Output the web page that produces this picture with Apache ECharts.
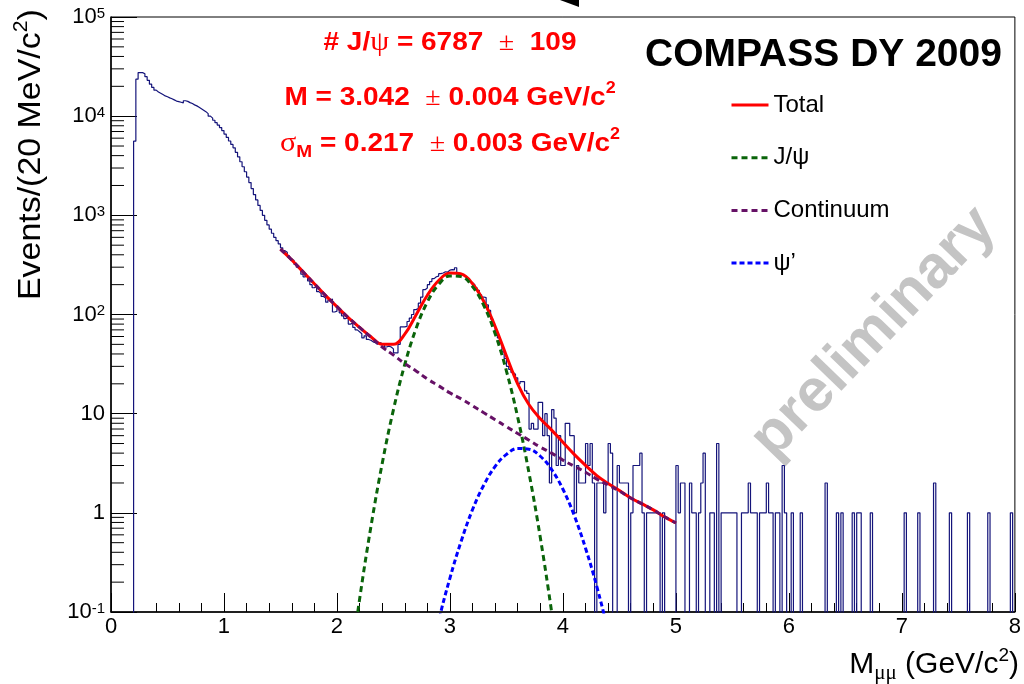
<!DOCTYPE html>
<html>
<head>
<meta charset="utf-8">
<script src="https://cdn.jsdelivr.net/npm/echarts@6/dist/echarts.min.js"></script>
<style>
  html, body { margin: 0; padding: 0; background: #fff; }
  #chart { width: 1024px; height: 684px; }
</style>
</head>
<body>
<div id="chart"></div>
<script>
// Dimuon invariant mass spectrum, 20 MeV/c^2 bins starting at 0 GeV/c^2
const binStart = 0;
const binWidth = 0.02;
const counts = [
  /* 0.00-0.38 */ 0,0,0,0,0,0,0,0,0,0, 5600,23600,27500,27500,26800,25000,23000,21000,19500,18300,
  /* 0.40-0.78 */ 17500,17000,16500,16000,15700,15300,15000,14600,14200,14000, 13800,13600,14300,14100,13700,13400,13000,12700,12300,11900,
  /* 0.80-1.18 */ 11500,11100,10600,10000,9550,9100,8600,8130,7670,7160, 6600,6100,5620,5190,4790,4320,3890,3470,3090,2750,
  /* 1.20-1.58 */ 2430,2140,1860,1620,1430,1260,1120,1000,890,800, 725,660,600,555,515,470,440,425,390,365,
  /* 1.60-1.98 */ 350,320,300,292,255,240,248,218,200,186, 192,170,163,152,147,133,140,143,106,108,
  /* 2.00-2.38 */ 115,104,97,91,93,80,82,74,70,67, 64,58,61,56,55,53,52,50,52,51,
  /* 2.40-2.78 */ 50,47,48,47,45,41,41,50,75,75, 76,85,92,100,112,115,130,150,178,185,
  /* 2.80-3.18 */ 200,215,230,240,244,258,262,270,268,280, 284,282,296,262,258,250,240,234,220,209,
  /* 3.20-3.58 */ 200,186,175,158,150,148,125,110,90,78, 65,58,51,42,36,30,28,26,25,23,
  /* 3.60-3.98 */ 20,21,21,17,16,7,8,7,7,13, 13,6,10,6,2,11,9,3,6,3,
  /* 4.00-4.38 */ 3,8,8,6,6,1,3,2,2,2, 5,3,5,2,0,2,2,2,1,2,
  /* 4.40-4.78 */ 5,4,0,0,3,2,2,2,2,0, 1,3,3,3,4,1,0,1,1,1,
  /* 4.80-5.18 */ 1,1,1,0,1,0,0,0,0,0, 3,1,2,2,0,0,2,1,1,0,
  /* 5.20-5.58 */ 1,2,4,0,0,1,1,0,5,0, 1,1,1,1,1,1,1,0,0,1,
  /* 5.60-5.98 */ 1,1,2,1,1,1,0,1,1,1, 2,1,1,0,1,1,0,3,1,0,
  /* 6.00-6.38 */ 0,1,0,0,0,1,0,0,0,0, 0,0,0,0,0,0,2,0,0,0,
  /* 6.40-6.78 */ 0,1,0,1,0,0,0,0,1,0, 1,1,0,0,0,0,1,0,0,0,
  /* 6.80-7.18 */ 0,0,0,0,0,0,0,0,0,0, 0,1,0,0,0,0,0,1,0,0,
  /* 7.20-7.58 */ 0,0,0,0,2,0,0,0,0,0, 0,1,0,0,0,0,0,0,0,1,
  /* 7.60-7.98 */ 0,0,0,0,0,0,0,0,1,0, 0,0,0,0,0,0,0,0,1,0
];
// empty bins are drawn just below the frame, like the histogram floor
const emptyBinLevel = 0.09;

// Fit components sampled along the mass axis (GeV/c^2)
const fitX = [1.5,1.6,1.7,1.8,1.9,2.0,2.1,2.2,2.3,2.4,2.5,2.6,2.7,2.8,2.9,3.0,3.1,3.2,3.3,3.4,
              3.5,3.6,3.7,3.8,3.9,4.0,4.1,4.2,4.3,4.4,4.5,4.6,4.7,4.8,4.9,5.0];
const continuum = [457,355,269,204,155,120,93,74,59,47, 39,32,27,22.4,19.1,16.2,14.1,12.0,10.2,8.7,
                   7.4,6.3,5.4,4.6,4.0,3.4,2.95,2.57,2.19,1.91, 1.66,1.41,1.23,1.07,0.91,0.79];
const jpsi = [null,null,null,null,null,null,0.02,0.134,0.72,3.13, 11.0,31.3,72.1,134,201,245,241,191,123,64,
              26.9,9.15,2.51,0.56,0.10,0.015,null,null,null,null, null,null,null,null,null,null];
const psiPrime = [null,null,null,null,null,null,null,null,null,null, null,null,null,0.02,0.08,0.22,0.52,1.08,1.91,2.94,
                  3.89,4.45,4.38,3.72,2.73,1.73,0.94,0.44,0.18,0.063, 0.018,null,null,null,null,null];

const yTickLabels = [[0.1,'10{sup|-1}'],[1,'1'],[10,'10'],[100,'10{sup|2}'],[1000,'10{sup|3}'],[10000,'10{sup|4}'],[100000,'10{sup|5}']];
const xTitle = 'M{sub|μμ} (GeV/c{sup|2})';
const yTitle = 'Events/(20 MeV/c{sup|2})';
const fitResults = [
  '# J/{g|ψ} = 6787  {pm|±}  109',
  'M = 3.042  {pm|±} 0.004 GeV/c{sup|2}',
  '{g|σ}{sub|M} = 0.217  {pm|±} 0.003 GeV/c{sup|2}'
];
const legendNames = ['Total', 'J/ψ', 'Continuum', 'ψ’'];

const FONT = '"Liberation Sans", Arial, Helvetica, sans-serif';
const SERIF = '"Liberation Serif", "DejaVu Serif", serif';

const histPoints = counts.map((c, i) => [+(binStart + i * binWidth).toFixed(2), Math.max(c, emptyBinLevel)]);
histPoints.push([+(binStart + counts.length * binWidth).toFixed(2), Math.max(counts[counts.length - 1], emptyBinLevel)]);

const pair = (arr) => fitX.map((x, i) => [x, arr[i] == null ? null : arr[i]]);
const total = fitX.map((x, i) => [x, continuum[i] + (jpsi[i] || 0) + (psiPrime[i] || 0)]);

// minor tick positions 2..9 x 10^k on the log axis
const yMinor = [];
for (let e = -1; e < 5; e++) for (let m = 2; m <= 9; m++) yMinor.push([0, m * Math.pow(10, e)]);

const chart = echarts.init(document.getElementById('chart'), null, { renderer: 'canvas' });

const redRich = {
  g:   { fontFamily: SERIF, fontWeight: 'normal', fontSize: 27, fill: '#ff0000', color: '#ff0000' },
  pm:  { fontFamily: SERIF, fontWeight: 'normal', fontSize: 25, fill: '#ff0000', color: '#ff0000' },
  sup: { fontFamily: FONT, fontWeight: 'bold', fontSize: 16, lineHeight: 16, verticalAlign: 'top', fill: '#ff0000', color: '#ff0000' },
  sub: { fontFamily: FONT, fontWeight: 'bold', fontSize: 17, lineHeight: 17, verticalAlign: 'bottom', fill: '#ff0000', color: '#ff0000' }
};
const redY = [43, 98, 144];

const lineColors = { 'Total': '#ff0000', 'J/ψ': '#0a640a', 'Continuum': '#661166', 'ψ’': '#0000ff' };

chart.setOption({
  animation: false,
  backgroundColor: '#fff',
  grid: { left: 111, right: 5, top: 17, bottom: 72, show: true, borderColor: '#000', borderWidth: 1, backgroundColor: 'transparent' },
  xAxis: {
    type: 'value', min: 0, max: 8, interval: 1,
    axisLine: { lineStyle: { color: '#000', width: 1.5 } },
    axisTick: { inside: true, length: 19, lineStyle: { color: '#000', width: 1 } },
    minorTick: { show: true, splitNumber: 5, length: 9, lineStyle: { color: '#000', width: 1 } },
    splitLine: { show: false },
    axisLabel: { fontFamily: FONT, fontSize: 22, color: '#000', margin: 4 }
  },
  yAxis: {
    type: 'log', logBase: 10, min: 0.1, max: 100000,
    axisLine: { lineStyle: { color: '#000', width: 1.5 } },
    axisTick: { inside: true, length: 26, lineStyle: { color: '#000', width: 1 } },
    splitLine: { show: false },
    axisLabel: {
      fontFamily: FONT, fontSize: 22, color: '#000', margin: 6,
      formatter: (v) => {
        const e = Math.round(Math.log10(v));
        const hit = yTickLabels.find(t => Math.round(Math.log10(t[0])) === e);
        return hit ? hit[1] : '';
      },
      rich: { sup: { fontFamily: FONT, fontSize: 15, color: '#000', verticalAlign: 'top' } }
    }
  },
  legend: {
    orient: 'vertical', left: 730, top: 93, padding: 0,
    itemWidth: 37, itemHeight: 24, itemGap: 28.7,
    textStyle: { fontFamily: FONT, fontSize: 24, color: '#000' },
    lineStyle: { width: 3 },
    data: legendNames.map(n => ({ name: n, itemStyle: { opacity: 0 } })),
    selectedMode: false
  },
  graphic: [
    { type: 'text', silent: true, z: -10, x: 874, y: 333, rotation: 46 * Math.PI / 180,
      style: { text: 'preliminary', font: 'bold 60px ' + FONT, fill: '#c4c4c4', align: 'center', verticalAlign: 'middle' } },
    { type: 'text', silent: true, x: 31, y: 300, rotation: Math.PI / 2, scaleX: 1.06,
      style: { text: yTitle, font: '32px ' + FONT, fill: '#000', align: 'left', verticalAlign: 'middle', lineHeight: 40,
               rich: { sup: { fontFamily: FONT, fontSize: 20, lineHeight: 20, fill: '#000', verticalAlign: 'top' } } } },
    { type: 'text', silent: true, x: 1019, y: 665,
      style: { text: xTitle, font: '30px ' + FONT, fill: '#000', align: 'right', verticalAlign: 'middle', lineHeight: 38,
               rich: {
                 sub: { fontFamily: SERIF, fontSize: 21, lineHeight: 21, fill: '#000', verticalAlign: 'bottom' },
                 sup: { fontFamily: FONT, fontSize: 19, lineHeight: 19, fill: '#000', verticalAlign: 'top' }
               } } },
    { type: 'text', silent: true, x: 645, y: 55,
      style: { text: 'COMPASS DY 2009', font: 'bold 39px ' + FONT, fill: '#000', align: 'left', verticalAlign: 'middle' } },
    ...fitResults.map((t, i) => ({
      type: 'text', silent: true, x: 450, y: redY[i], scaleX: 1.12,
      style: { text: t, font: 'bold 25px ' + FONT, fill: '#ff0000', align: 'center', verticalAlign: 'middle', lineHeight: 34, rich: redRich }
    })),
    { type: 'polygon', silent: true, shape: { points: [[560, 0], [579, 0], [579, 7]] }, style: { fill: '#000' } }
  ],
  series: [
    { name: 'data', type: 'line', step: 'end', data: histPoints, symbol: 'none', silent: true, z: 2,
      lineStyle: { color: '#14147a', width: 1.2 } },
    { name: 'Total', type: 'line', data: total, symbol: 'none', smooth: 0.4, silent: true, z: 3,
      lineStyle: { color: lineColors['Total'], width: 3 }, itemStyle: { color: lineColors['Total'] } },
    { name: 'J/ψ', type: 'line', data: pair(jpsi), symbol: 'none', smooth: 0.4, silent: true, z: 4,
      lineStyle: { color: lineColors['J/ψ'], width: 3, type: [6, 4] }, itemStyle: { color: lineColors['J/ψ'] } },
    { name: 'Continuum', type: 'line', data: pair(continuum), symbol: 'none', smooth: 0.4, silent: true, z: 4,
      lineStyle: { color: lineColors['Continuum'], width: 3, type: [6, 4] }, itemStyle: { color: lineColors['Continuum'] } },
    { name: 'ψ’', type: 'line', data: pair(psiPrime), symbol: 'none', smooth: 0.4, silent: true, z: 4,
      lineStyle: { color: lineColors['ψ’'], width: 3, type: [5, 3] }, itemStyle: { color: lineColors['ψ’'] } },
    { name: 'minorTicks', type: 'custom', data: yMinor, silent: true, z: 5,
      renderItem: (params, api) => {
        const p = api.coord([0, api.value(1)]);
        return { type: 'line', shape: { x1: p[0], y1: p[1], x2: p[0] + 13, y2: p[1] }, style: { stroke: '#000', lineWidth: 1 } };
      } }
  ]
});
</script>
</body>
</html>
